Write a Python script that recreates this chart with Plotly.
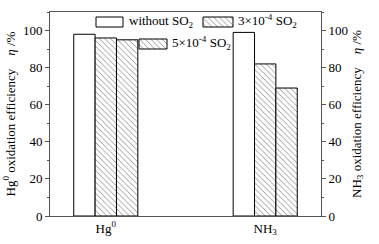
import plotly.graph_objects as go

categories = ["Hg<sup>0</sup>", "NH<sub>3</sub>"]
series_names = ["without SO<sub>2</sub>", "3×10<sup>-4</sup> SO<sub>2</sub>", "5×10<sup>-4</sup> SO<sub>2</sub>"]
without_so2 = [98, 99]
so2_3e4 = [96, 82]
so2_5e4 = [95, 69]
y_ticks = [0, 20, 40, 60, 80, 100]

FONT = "Times New Roman, Liberation Serif, DejaVu Serif, serif"
W, H = 379, 244
L, R, T, B = 50, 58, 12, 28

BAR_W = 0.134
offsets = [-1.5 * BAR_W, -0.5 * BAR_W, 0.5 * BAR_W]

fig = go.Figure()
patterns = ["", "\\", "\\"]
for name, vals, pat, off in zip(series_names, [without_so2, so2_3e4, so2_5e4], patterns, offsets):
    fig.add_trace(go.Bar(
        x=[0, 1], y=vals, name=name, width=BAR_W, offset=off,
        marker=dict(color="white", line=dict(color="black", width=1),
                    pattern=dict(shape=pat, fgcolor="black", bgcolor="white", size=4, solidity=0.2)),
        showlegend=False, xaxis="x", yaxis="y"))

# invisible trace to show the right axis
fig.add_trace(go.Scatter(x=[0], y=[0], mode="markers", marker=dict(opacity=0),
                         showlegend=False, hoverinfo="skip", xaxis="x", yaxis="y2"))

# legend swatches drawn in a pixel-coordinate overlay
sw_x = [109.5, 218, 153]
sw_w = [27, 30, 28]
sw_base = [17, 17, 39]
sw_h = [10, 10, 10]
fig.add_trace(go.Bar(
    x=sw_x, y=sw_h, base=sw_base, width=sw_w, offset=[-w / 2 for w in sw_w],
    marker=dict(color="white", line=dict(color="black", width=1),
                pattern=dict(shape=patterns, fgcolor="black", bgcolor="white", size=4, solidity=0.2)),
    showlegend=False, hoverinfo="skip", xaxis="x3", yaxis="y3"))

text_pos = [(127, 21), (236, 21), (170, 43)]
for (tx, ty), name in zip(text_pos, series_names):
    fig.add_annotation(x=tx, y=ty, xref="x3", yref="y3", text=name, showarrow=False,
                       xanchor="left", yanchor="middle", font=dict(family=FONT, size=13, color="black"))

axis_common = dict(showgrid=False, zeroline=False, linecolor="#555", linewidth=1, automargin=False,
                   tickfont=dict(family=FONT, size=13, color="black"))

fig.update_layout(
    width=W, height=H, margin=dict(l=L, r=R, t=T, b=B),
    paper_bgcolor="white", plot_bgcolor="white",
    font=dict(family=FONT, size=13, color="black"),
    barmode="overlay",
    xaxis=dict(**axis_common, tickmode="array", tickvals=[0, 1], ticktext=categories,
               range=[-0.35, 1.35], ticks="", mirror=True, showline=True, fixedrange=True),
    yaxis=dict(**axis_common, range=[0, 110], tickvals=y_ticks, ticks="outside", ticklen=4,
               tickcolor="#555", showline=True,
               minor=dict(dtick=10, ticks="outside", ticklen=2, tickcolor="#555"),
               title=dict(text="Hg<sup>0</sup> oxidation efficiency\u00a0\u00a0\u00a0\u00a0<i>η</i> /%",
                          font=dict(family=FONT, size=13, color="black"), standoff=4)),
    yaxis2=dict(**axis_common, range=[0, 110], tickvals=y_ticks, ticks="outside", ticklen=4,
                tickcolor="#555", showline=True, overlaying="y", side="right",
                minor=dict(dtick=10, ticks="outside", ticklen=2, tickcolor="#555"),
                title=dict(text="NH<sub>3</sub> oxidation efficiency\u00a0\u00a0\u00a0\u00a0<i>η</i> /%",
                           font=dict(family=FONT, size=13, color="black"), standoff=4)),
    xaxis3=dict(range=[L, W - R], visible=False, domain=[0, 1], anchor="y3", overlaying="x"),
    yaxis3=dict(range=[H - B, T], visible=False, domain=[0, 1], anchor="x3", overlaying="y"),
)

fig.write_html("out.html", config={"displayModeBar": False},
               post_script="document.body.style.margin='0';document.body.style.overflow='hidden';")
